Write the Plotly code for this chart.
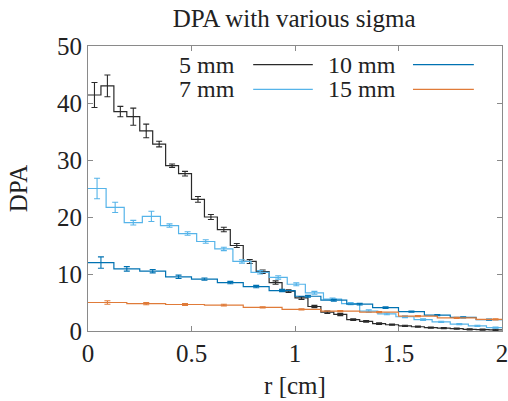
import plotly.graph_objects as go

# ---- data ----
series_names = ["5 mm", "7 mm", "10 mm", "15 mm"]
series_colors = ["#2a2a2a", "#56B4E9", "#0072B2", "#E07B39"]
bin_widths = [0.0625, 0.0875, 0.125, 0.1875]  # cm

dpa_5mm = [41.4, 43.0, 38.5, 37.6, 35.1, 32.8, 29.0, 27.6, 23.1, 20.0, 17.8, 15.0,
           12.2, 10.4, 8.5, 7.0, 5.8, 4.3, 3.3, 2.9, 2.0, 1.7, 1.3, 1.1,
           0.9, 0.75, 0.6, 0.5, 0.4, 0.3, 0.25, 0.2]
err_5mm = [2.2, 1.9, 0.9, 1.5, 1.2, 0.5, 0.3, 0.4, 0.5, 0.45, 0.4, 0.35, 0.35, 0.3, 0.3, 0.25,
           0.25, 0.2, 0.2, 0.2, 0.15, 0.15, 0.15, 0.1, 0.1, 0.1, 0.1, 0.1, 0.1, 0.1, 0.1, 0.1]

dpa_7mm = [25.0, 21.7, 19.0, 20.1, 18.5, 17.1, 15.7, 14.4, 12.2, 10.3, 9.4, 8.2,
           6.7, 5.6, 4.8, 3.5, 3.0, 2.5, 2.0, 1.6, 1.2, 0.9, 0.6]
err_7mm = [1.8, 0.9, 0.4, 0.9, 0.3, 0.3, 0.3, 0.3, 0.3, 0.3, 0.3, 0.25,
           0.25, 0.2, 0.2, 0.2, 0.15, 0.15, 0.15, 0.1, 0.1, 0.1, 0.1]

dpa_10mm = [12.0, 10.9, 10.5, 9.5, 9.1, 8.5, 7.8, 7.1, 6.1, 5.4, 4.7, 4.1, 3.4, 2.8, 2.4, 2.0]
err_10mm = [1.0, 0.4, 0.3, 0.3, 0.2, 0.2, 0.2, 0.2, 0.15, 0.15, 0.15, 0.15, 0.1, 0.1, 0.1, 0.1]

dpa_15mm = [5.0, 4.8, 4.65, 4.55, 4.15, 3.8, 3.5, 3.3, 2.6, 2.3, 2.05]
err_15mm = [0.3, 0.2, 0.15, 0.15, 0.1, 0.1, 0.1, 0.1, 0.1, 0.1, 0.1]

x_tick_vals = [0, 0.5, 1, 1.5, 2]
x_tick_text = ["0", "0.5", "1", "1.5", "2"]
y_tick_vals = [0, 10, 20, 30, 40, 50]

all_values = [dpa_5mm, dpa_7mm, dpa_10mm, dpa_15mm]
all_errors = [err_5mm, err_7mm, err_10mm, err_15mm]

FONT = "Liberation Serif"
FS = 25
TXT = "#222222"
fig = go.Figure()

for name, color, w, vals, errs in zip(series_names, series_colors, bin_widths, all_values, all_errors):
    n = len(vals)
    edges = [i * w for i in range(n + 1)]
    centers = [(i + 0.5) * w for i in range(n)]
    fig.add_trace(go.Scatter(
        x=edges, y=vals + [vals[-1]], mode="lines", line=dict(color=color, width=1.2, shape="hv"),
        name=name, showlegend=False, hoverinfo="skip"))
    fig.add_trace(go.Scatter(
        x=centers, y=vals, mode="markers", marker=dict(size=1, color=color),
        error_y=dict(type="data", array=errs, color=color, thickness=1.1, width=3),
        showlegend=False, name=name))

# manual gnuplot-style legend (text, then line sample)
legend_text_x = [0.36, 0.36, 0.749, 0.749]
legend_line_x = [(0.399, 0.543), (0.399, 0.543), (0.785, 0.932), (0.785, 0.932)]
legend_y = [0.935, 0.848, 0.935, 0.848]
for name, color, tx, (lx0, lx1), ly in zip(series_names, series_colors, legend_text_x, legend_line_x, legend_y):
    fig.add_annotation(x=tx, y=ly, xref="paper", yref="paper", text=name, showarrow=False,
                       xanchor="right", yanchor="middle", font=dict(family=FONT, size=FS - 1, color=TXT))
    fig.add_shape(type="line", xref="paper", yref="paper", x0=lx0, x1=lx1, y0=ly, y1=ly,
                  line=dict(color=color, width=1.2))

axis_common = dict(showline=True, linecolor="#8a8a8a", linewidth=1.2, mirror="ticks",
                   ticks="inside", ticklen=5, tickcolor="#8a8a8a", showgrid=False, zeroline=False,
                   tickfont=dict(family=FONT, size=FS, color=TXT), automargin=False,
                   ticklabeloverflow="allow")

fig.update_layout(
    width=508, height=401,
    margin=dict(l=88, r=6, t=46, b=70),
    plot_bgcolor="white", paper_bgcolor="white",
    title=dict(text="DPA with various sigma", x=0.579, xanchor="center", y=0.955, yanchor="middle",
               font=dict(family=FONT, size=FS, color=TXT)),
    xaxis=dict(range=[0, 2], tickvals=x_tick_vals, ticktext=x_tick_text,
               title=dict(text="r [cm]", font=dict(family=FONT, size=FS, color=TXT), standoff=10),
               **axis_common),
    yaxis=dict(range=[0, 50], tickvals=y_tick_vals,
               title=dict(text="DPA", font=dict(family=FONT, size=FS, color=TXT), standoff=22),
               **axis_common),
)

# remove the browser's default page margin so the figure fills the 508x401 window exactly
fig.write_html("out.html", config={"displayModeBar": False},
               post_script="document.body.style.margin='0';document.body.style.overflow='hidden';")
